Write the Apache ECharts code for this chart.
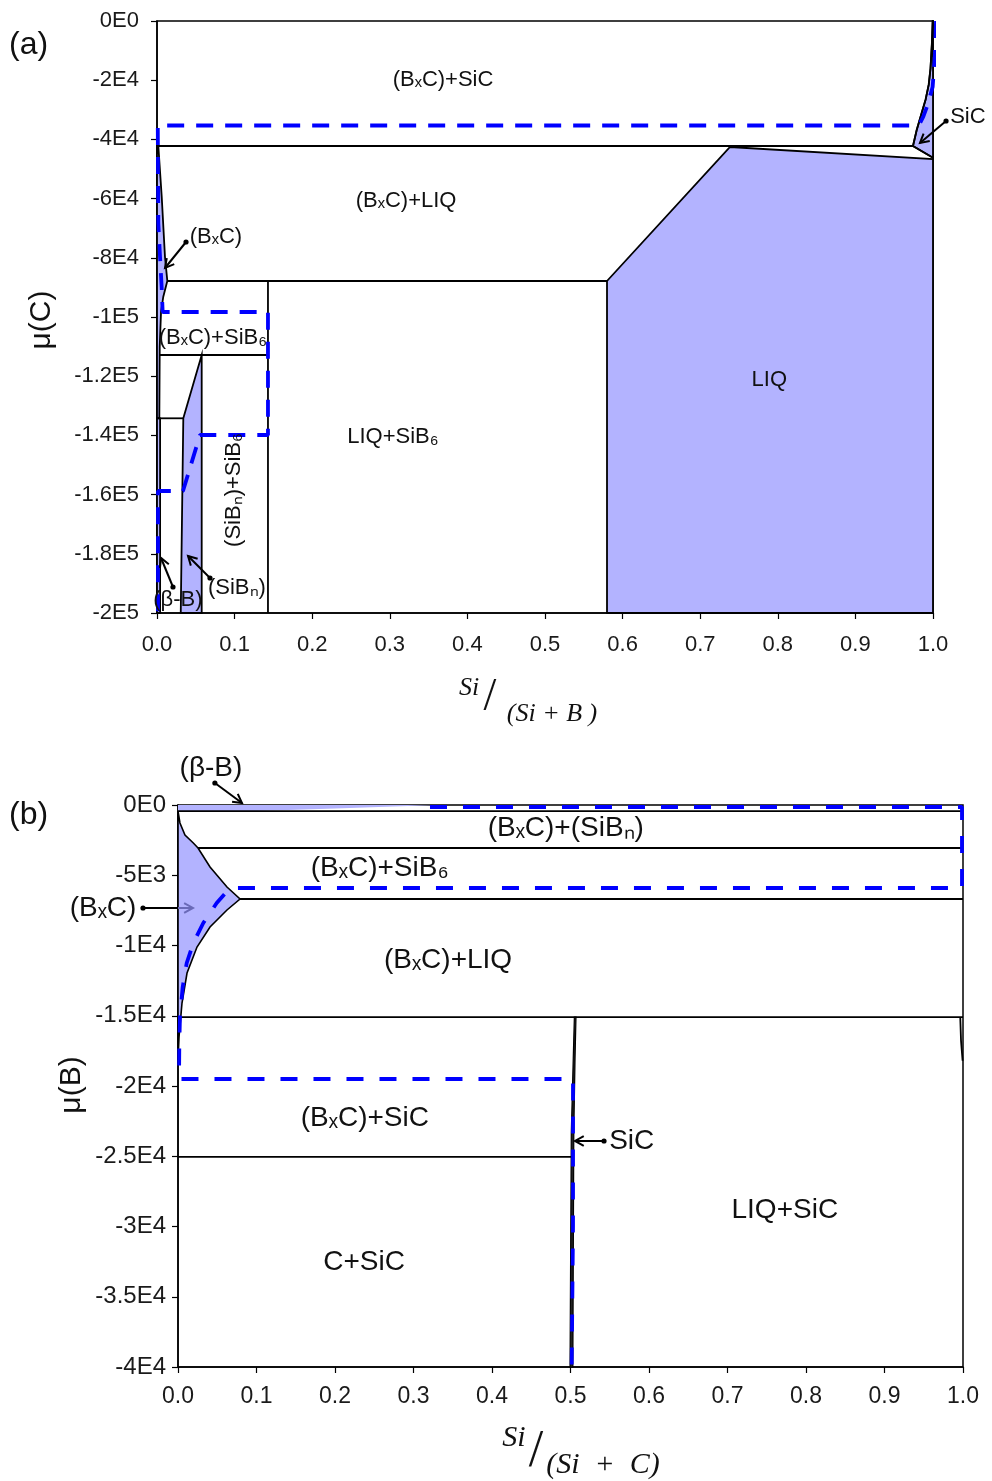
<!DOCTYPE html>
<html>
<head>
<meta charset="utf-8">
<script src="https://cdn.jsdelivr.net/npm/echarts@6/dist/echarts.min.js"></script>
<style>
html,body{margin:0;padding:0;background:#fff;}
#chart{width:992px;height:1481px;}
</style>
</head>
<body>
<div id="chart"></div>
<script>
// ---------- tick labels ----------
const xTickLabels = ['0.0','0.1','0.2','0.3','0.4','0.5','0.6','0.7','0.8','0.9','1.0'];
const yTickLabelsA = ['-2E5','-1.8E5','-1.6E5','-1.4E5','-1.2E5','-1E5','-8E4','-6E4','-4E4','-2E4','0E0'];
const yTickLabelsB = ['-4E4','-3.5E4','-3E4','-2.5E4','-2E4','-1.5E4','-1E4','-5E3','0E0'];

// ---------- panel (a): x = Si/(Si+B), y = mu(C) ----------
const aBxcSicBottom = [[0,-42230],[0.9742,-42230]];
const aSicCurve = [[0.9996,0],[0.9985,-8000],[0.9968,-16000],[0.9945,-21500],[0.9905,-26500],[0.9854,-31081],[0.979,-36824],[0.9742,-42230]];
const aSicLower = [[0.9742,-42230],[1.0,-46200]];
const aSicRegion = [[0.9996,0],[0.9985,-8000],[0.9968,-16000],[0.9945,-21500],[0.9905,-26500],[0.9854,-31081],[0.979,-36824],[0.9742,-42230],[1.0,-46200],[1.0,0]];
const aLiqRegion = [[0.5799,-87838],[0.7384,-42568],[1.0,-46622],[1.0,-200000],[0.5799,-200000]];
const aBxcLiqBottom = [[0.0133,-87838],[0.5799,-87838]];
const aSib6Left = [[0.143,-87838],[0.143,-200000]];
const aBxcRegion = [[0,-42230],[0.0017,-42230],[0.0061,-59459],[0.0103,-79730],[0.0133,-87838],[0.0081,-93142],[0.0052,-98209],[0.0035,-110034],[0.003,-134223],[0,-134223]];
const aBxcSib6Bottom = [[0.003,-112838],[0.143,-112838]];
const aBetaBTop = [[0,-134223],[0.0339,-134223]];
const aSibnRegion = [[0.0339,-134223],[0.0576,-112838],[0.0576,-200000],[0.0306,-200000]];
const aBetaBRegion = [[0,-134223],[0.004,-134223],[0.004,-200000],[0,-200000]];
const aDashed = [[1.0039,0],[1.0026,-10811],[0.9996,-22185],[0.9939,-27703],[0.9875,-32331],[0.9832,-34561],[0.978,-35300],[0.001,-35300],[0.0013,-50000],[0.0017,-68243],[0.0039,-79730],[0.006,-89865],[0.0073,-98311],[0.143,-98311],[0.143,-139865],[0.0554,-139865],[0.0335,-158784],[0.0013,-158784],[0.0013,-200000]];

// ---------- panel (b): x = Si/(Si+C), y = mu(B) ----------
const bBetaBRegion = [[0,0],[0.33,0],[0.2,-250],[0.1,-430],[0,-430]];
const bLine1 = [[0,-430],[1,-430]];
const bLine2 = [[0.0255,-3060],[1,-3060]];
const bLine3 = [[0.079,-6690],[1,-6690]];
const bLine4 = [[0,-15100],[1,-15100]];
const bLine5 = [[0,-25050],[0.5015,-25050]];
const bSicSliver = [[0.5049,-15100],[0.5035,-18000],[0.5010,-23343],[0.4994,-40000],[0.5030,-40000],[0.5042,-23343],[0.5058,-18000],[0.5070,-15100]];
const bRightCurve = [[0.9965,-15100],[0.9975,-16800],[0.9995,-18200]];
const bBxcRegion = [[0,-430],[0.0025,-1280],[0.0089,-2135],[0.0195,-2705],[0.0255,-3060],[0.0408,-4413],[0.0624,-5836],[0.079,-6690],[0.0624,-7473],[0.0408,-8683],[0.0242,-10107],[0.0115,-11957],[0.0051,-14093],[0.0013,-16512],[0,-18150]];
const bDashed = [[0.321,-142],[0.9987,-142],[0.9987,-5907],[0.0688,-5907],[0.0641,-6050],[0.0493,-6975],[0.0322,-8398],[0.0195,-9822],[0.0111,-11245],[0.006,-12953],[0.0025,-15088],[0.0017,-16939],[0.0013,-19500],[0.5032,-19500],[0.5032,-30000],[0.5015,-40000]];

// ---------- annotations ----------
const labelsA = [
  [0.3686,-19932,'(BₓC)+SiC'],
  [1.045,-32432,'SiC'],
  [0.321,-60811,'(BₓC)+LIQ'],
  [0.076,-72973,'(BₓC)'],
  [0.072,-107095,'(BₓC)+SiB₆'],
  [0.789,-121284,'LIQ'],
  [0.304,-140541,'LIQ+SiB₆'],
  [0.0992,-158446,'(SiBₙ)+SiB₆'],
  [0.103,-191554,'(SiBₙ)'],
  [0.027,-195608,'(β-B)']
];
const labelRotA = [0,0,0,0,0,0,0,90,0,0];
const arrowsA = [
  [1.0168,-33784,0.9832,-41216],
  [0.0374,-74662,0.0103,-83446],
  [0.0683,-188176,0.04,-180743],
  [0.0206,-191216,0.0052,-181419]
];
const labelsB = [
  [0.042,2633,'(β-B)'],
  [0.494,-1637,'(BₓC)+(SiBₙ)'],
  [0.257,-4484,'(BₓC)+SiB₆'],
  [-0.0955,-7330,'(BₓC)'],
  [0.344,-11031,'(BₓC)+LIQ'],
  [0.238,-22276,'(BₓC)+SiC'],
  [0.578,-23913,'SiC'],
  [0.773,-28824,'LIQ+SiC'],
  [0.237,-32525,'C+SiC']
];
const arrowsB = [
  [0.047,1566,0.0815,142],
  [-0.0446,-7330,0,-7330],
  [0,-7330,0.019,-7330],
  [0.5427,-23913,0.5057,-23913]
];
const arrowStyleB = [
  {dot:true, head:true, color:'#000'},
  {dot:true, head:false, color:'#000'},
  {dot:false, head:true, color:'#6a6ab8'},
  {dot:true, head:true, color:'#000'}
];

// ---------- styles ----------
const FONT = '"Liberation Sans", Arial, sans-serif';
const SERIF = '"Liberation Serif", "DejaVu Serif", serif';
const FILL = '#b3b3ff';
const BLUE = '#0000ff';

function polySeries(gi, polys) {
  return {
    type: 'custom', xAxisIndex: gi, yAxisIndex: gi, z: 2, silent: true,
    data: polys.map(p => [p.pts[0][0], p.pts[0][1]]),
    renderItem(params, api) {
      const p = polys[params.dataIndex];
      return {
        type: 'polygon',
        shape: { points: p.pts.map(q => api.coord(q)) },
        style: { fill: p.fill, stroke: p.stroke || null, lineWidth: p.lw || 0 }
      };
    }
  };
}
function lineSeries(gi, data, opts) {
  opts = opts || {};
  return {
    type: 'line', xAxisIndex: gi, yAxisIndex: gi, data: data, symbol: 'none',
    z: opts.z || 3, clip: false, silent: true, animation: false,
    lineStyle: { color: opts.color || '#000', width: opts.width || 1.8, type: opts.type || 'solid' }
  };
}
function labelSeries(gi, items, rots, fontSize) {
  return {
    type: 'custom', xAxisIndex: gi, yAxisIndex: gi, z: 10, clip: false, silent: true,
    data: items.map(d => [d[0], d[1]]),
    renderItem(params, api) {
      const it = items[params.dataIndex];
      const p = api.coord([api.value(0), api.value(1)]);
      const r = rots ? (rots[params.dataIndex] || 0) : 0;
      return {
        type: 'text', x: p[0], y: p[1], rotation: r * Math.PI / 180,
        style: { text: it[2], fontSize: fontSize, fontFamily: FONT, fill: '#111', align: 'center', verticalAlign: 'middle' }
      };
    }
  };
}
function arrowSeries(gi, arrows, styles) {
  return {
    type: 'custom', xAxisIndex: gi, yAxisIndex: gi, z: 11, clip: false, silent: true,
    data: arrows.map(a => [a[0], a[1], a[2], a[3]]),
    renderItem(params, api) {
      const st = styles ? styles[params.dataIndex] : {dot:true, head:true, color:'#000'};
      const p0 = api.coord([api.value(0), api.value(1)]);
      const p1 = api.coord([api.value(2), api.value(3)]);
      const ang = Math.atan2(p1[1] - p0[1], p1[0] - p0[0]);
      const L = 10, w = 0.5;
      const h1 = [p1[0] - L * Math.cos(ang - w), p1[1] - L * Math.sin(ang - w)];
      const h2 = [p1[0] - L * Math.cos(ang + w), p1[1] - L * Math.sin(ang + w)];
      const ch = [{ type: 'line', shape: { x1: p0[0], y1: p0[1], x2: p1[0], y2: p1[1] }, style: { stroke: st.color, lineWidth: 2 } }];
      if (st.dot) ch.push({ type: 'circle', shape: { cx: p0[0], cy: p0[1], r: 2.6 }, style: { fill: st.color } });
      if (st.head) ch.push({ type: 'polyline', shape: { points: [h1, p1, h2] }, style: { stroke: st.color, fill: null, lineWidth: 2 } });
      return { type: 'group', children: ch };
    }
  };
}
function axisCommon(fontSize, margin) {
  return {
    axisLine: { show: true, onZero: false, lineStyle: { color: '#000', width: 1.5 } },
    axisTick: { show: true, length: 6, lineStyle: { color: '#000', width: 1.2 } },
    splitLine: { show: false },
    axisLabel: { fontSize: fontSize, fontFamily: FONT, color: '#1a1a1a', margin: margin }
  };
}

const chart = echarts.init(document.getElementById('chart'), null, { renderer: 'canvas' });

const xA = Object.assign({ type: 'value', gridIndex: 0, min: 0, max: 1, interval: 0.1 }, axisCommon(22, 21));
xA.axisLabel.formatter = v => xTickLabels[Math.round(v * 10)];
const yA = Object.assign({ type: 'value', gridIndex: 0, min: -200000, max: 0, interval: 20000 }, axisCommon(22, 18));
yA.axisLabel.formatter = v => yTickLabelsA[Math.round((v + 200000) / 20000)];
const xB = Object.assign({ type: 'value', gridIndex: 1, min: 0, max: 1, interval: 0.1 }, axisCommon(23, 18));
xB.axisLabel.formatter = v => xTickLabels[Math.round(v * 10)];
const yB = Object.assign({ type: 'value', gridIndex: 1, min: -40000, max: 0, interval: 5000 }, axisCommon(24, 12));
yB.axisLabel.formatter = v => yTickLabelsB[Math.round((v + 40000) / 5000)];

const option = {
  animation: false,
  backgroundColor: '#fff',
  grid: [
    { left: 157, top: 21, width: 776, height: 592, show: true, borderColor: '#000', borderWidth: 1.5, backgroundColor: 'transparent' },
    { left: 178, top: 805, width: 785, height: 562, show: true, borderColor: '#000', borderWidth: 1.5, backgroundColor: 'transparent' }
  ],
  xAxis: [xA, xB],
  yAxis: [yA, yB],
  graphic: [
    { type: 'text', left: 9, top: 29, style: { text: '(a)', font: '32px ' + FONT, fill: '#111' } },
    { type: 'text', left: 9, top: 799, style: { text: '(b)', font: '32px ' + FONT, fill: '#111' } },
    { type: 'text', x: 42, y: 320, rotation: Math.PI / 2, style: { text: 'μ(C)', font: '30px ' + FONT, fill: '#111', align: 'center', verticalAlign: 'middle' } },
    { type: 'text', x: 72, y: 1085, rotation: Math.PI / 2, style: { text: 'μ(B)', font: '30px ' + FONT, fill: '#111', align: 'center', verticalAlign: 'middle' } },
    { type: 'text', x: 469, y: 688, style: { text: 'Si', font: 'italic 26px ' + SERIF, fill: '#111', align: 'center', verticalAlign: 'middle' } },
    { type: 'text', x: 490, y: 698, style: { text: '/', font: '46px ' + SERIF, fill: '#111', align: 'center', verticalAlign: 'middle' } },
    { type: 'text', x: 552, y: 714, style: { text: '(Si + B )', font: 'italic 26px ' + SERIF, fill: '#111', align: 'center', verticalAlign: 'middle' } },
    { type: 'text', x: 514, y: 1438, style: { text: 'Si', font: 'italic 30px ' + SERIF, fill: '#111', align: 'center', verticalAlign: 'middle' } },
    { type: 'text', x: 536, y: 1452, style: { text: '/', font: '52px ' + SERIF, fill: '#111', align: 'center', verticalAlign: 'middle' } },
    { type: 'text', x: 603, y: 1465, style: { text: '(Si  +  C)', font: 'italic 30px ' + SERIF, fill: '#111', align: 'center', verticalAlign: 'middle' } }
  ],
  series: [
    // ---- panel (a) ----
    polySeries(0, [
      { pts: aLiqRegion, fill: FILL, stroke: '#000', lw: 1.8 },
      { pts: aSicRegion, fill: FILL, stroke: '#000', lw: 1.8 },
      { pts: aBxcRegion, fill: FILL, stroke: '#000', lw: 1.8 },
      { pts: aSibnRegion, fill: FILL, stroke: '#000', lw: 1.8 },
      { pts: aBetaBRegion, fill: FILL, stroke: '#000', lw: 1.8 }
    ]),
    lineSeries(0, aBxcSicBottom),
    lineSeries(0, aSicCurve),
    lineSeries(0, aSicLower),
    lineSeries(0, aBxcLiqBottom),
    lineSeries(0, aSib6Left),
    lineSeries(0, aBxcSib6Bottom),
    lineSeries(0, aBetaBTop),
    lineSeries(0, aDashed, { color: BLUE, width: 3.8, type: [17, 12], z: 5 }),
    labelSeries(0, labelsA, labelRotA, 22),
    arrowSeries(0, arrowsA),
    // ---- panel (b) ----
    polySeries(1, [
      { pts: bBetaBRegion, fill: FILL, stroke: null, lw: 0 },
      { pts: bBxcRegion, fill: FILL, stroke: '#000', lw: 1.6 },
      { pts: bSicSliver, fill: '#222', stroke: '#000', lw: 1.2 }
    ]),
    lineSeries(1, bLine1),
    lineSeries(1, bLine2),
    lineSeries(1, bLine3),
    lineSeries(1, bLine4),
    lineSeries(1, bLine5),
    lineSeries(1, bRightCurve),
    lineSeries(1, bDashed, { color: BLUE, width: 3.8, type: [17, 16], z: 5 }),
    labelSeries(1, labelsB, null, 28),
    arrowSeries(1, arrowsB, arrowStyleB)
  ]
};
chart.setOption(option);
</script>
</body>
</html>
